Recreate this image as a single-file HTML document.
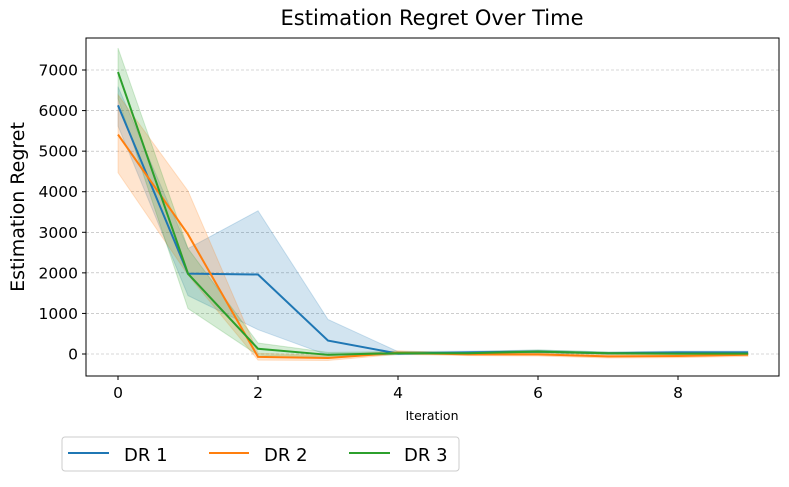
<!DOCTYPE html>
<html><head><meta charset="utf-8"><style>
body{margin:0;background:#fff;}
svg text{font-family:"DejaVu Sans","Liberation Sans",sans-serif;}
</style></head><body>
<svg id="chart" width="789" height="482" xmlns="http://www.w3.org/2000/svg">
<rect width="789" height="482" fill="#fff"/>
<text x="432" y="25" font-size="21" text-anchor="middle">Estimation Regret Over Time</text>
<g id="grid"></g><g id="bands"></g><g id="lines"></g><g id="axes"></g>
<text x="432" y="420" font-size="12.5" text-anchor="middle">Iteration</text>
<text transform="translate(24,207) rotate(-90)" font-size="19" text-anchor="middle">Estimation Regret</text>
<g>
<rect x="62" y="437" width="397" height="34" rx="3" fill="#fff" stroke="#ccc"/>
<line x1="68" y1="453" x2="109" y2="453" stroke="#1f77b4" stroke-width="2"/>
<text x="124" y="461" font-size="18">DR 1</text>
<line x1="209" y1="453" x2="249" y2="453" stroke="#ff7f0e" stroke-width="2"/>
<text x="264" y="461" font-size="18">DR 2</text>
<line x1="349" y1="453" x2="390" y2="453" stroke="#2ca02c" stroke-width="2"/>
<text x="404" y="461" font-size="18">DR 3</text>
</g>
</svg>
<script>
const iterations=[0,1,2,3,4,5,6,7,8,9];
const dr1=[6130,1980,1960,330,10,40,60,20,40,40];
const dr1Lo=[5620,1440,600,-30,-20,10,30,0,10,10];
const dr1Hi=[6590,2600,3530,850,60,70,100,50,70,70];
const dr2=[5410,2950,-70,-100,30,-10,-10,-60,-50,-20];
const dr2Lo=[4470,1950,-150,-160,-10,-40,-50,-100,-90,-60];
const dr2Hi=[6390,4020,20,-40,80,20,30,-20,-10,10];
const dr3=[6950,1980,130,-20,20,20,60,20,10,10];
const dr3Lo=[6300,1120,-30,-70,-10,-10,30,-10,-20,-20];
const dr3Hi=[7540,2600,270,40,60,50,100,50,40,40];
const yTicks=[0,1000,2000,3000,4000,5000,6000,7000];
const xTicks=[0,2,4,6,8];
const L=86,R=779,T=38,B=376;
const X=v=>118+v*70;
const Y=v=>354-v*0.04057;
const ns="http://www.w3.org/2000/svg";
function mk(tag,attrs,parent){const e=document.createElementNS(ns,tag);for(const k in attrs)e.setAttribute(k,attrs[k]);parent.appendChild(e);return e;}
const grid=document.getElementById('grid'),bands=document.getElementById('bands'),lines=document.getElementById('lines'),axes=document.getElementById('axes');
yTicks.forEach(t=>{
 const g=mk('line',{x1:L,x2:R,y1:Y(t),y2:Y(t),stroke:'#b0b0b0','stroke-width':0.6,'stroke-dasharray':'3,2'},grid);
 
 
 mk('line',{x1:L-4,x2:L,y1:Y(t),y2:Y(t),stroke:'#000'},axes);
 const tx=mk('text',{x:L-8,y:Y(t)+5.5,'font-size':15.5,'text-anchor':'end'},axes);
 tx.textContent=t;
 
 
});
xTicks.forEach(t=>{
 mk('line',{x1:X(t),x2:X(t),y1:B,y2:B+4,stroke:'#000'},axes);
 const tx=mk('text',{x:X(t),y:B+22,'font-size':15.5,'text-anchor':'middle'},axes);
 tx.textContent=t;
 
 
});
const fr=mk('rect',{x:L,y:T,width:R-L,height:B-T,fill:'none',stroke:'#000','stroke-width':1},axes);


const series=[[dr1,dr1Lo,dr1Hi,'#1f77b4','dr1'],[dr2,dr2Lo,dr2Hi,'#ff7f0e','dr2'],[dr3,dr3Lo,dr3Hi,'#2ca02c','dr3']];
series.forEach(([m,lo,hi,c,n])=>{
 const up=iterations.map((x,i)=>X(x)+','+Y(hi[i]));
 const dn=iterations.map((x,i)=>X(x)+','+Y(lo[i])).reverse();
 const b=mk('polygon',{points:up.concat(dn).join(' '),fill:c,'fill-opacity':0.2,stroke:c,'stroke-opacity':0.2},bands);
 
 
});
series.forEach(([m,lo,hi,c,n])=>{
 const l=mk('polyline',{points:iterations.map((x,i)=>X(x)+','+Y(m[i])).join(' '),fill:'none',stroke:c,'stroke-width':2},lines);
 
 
});
</script>
</body></html>
